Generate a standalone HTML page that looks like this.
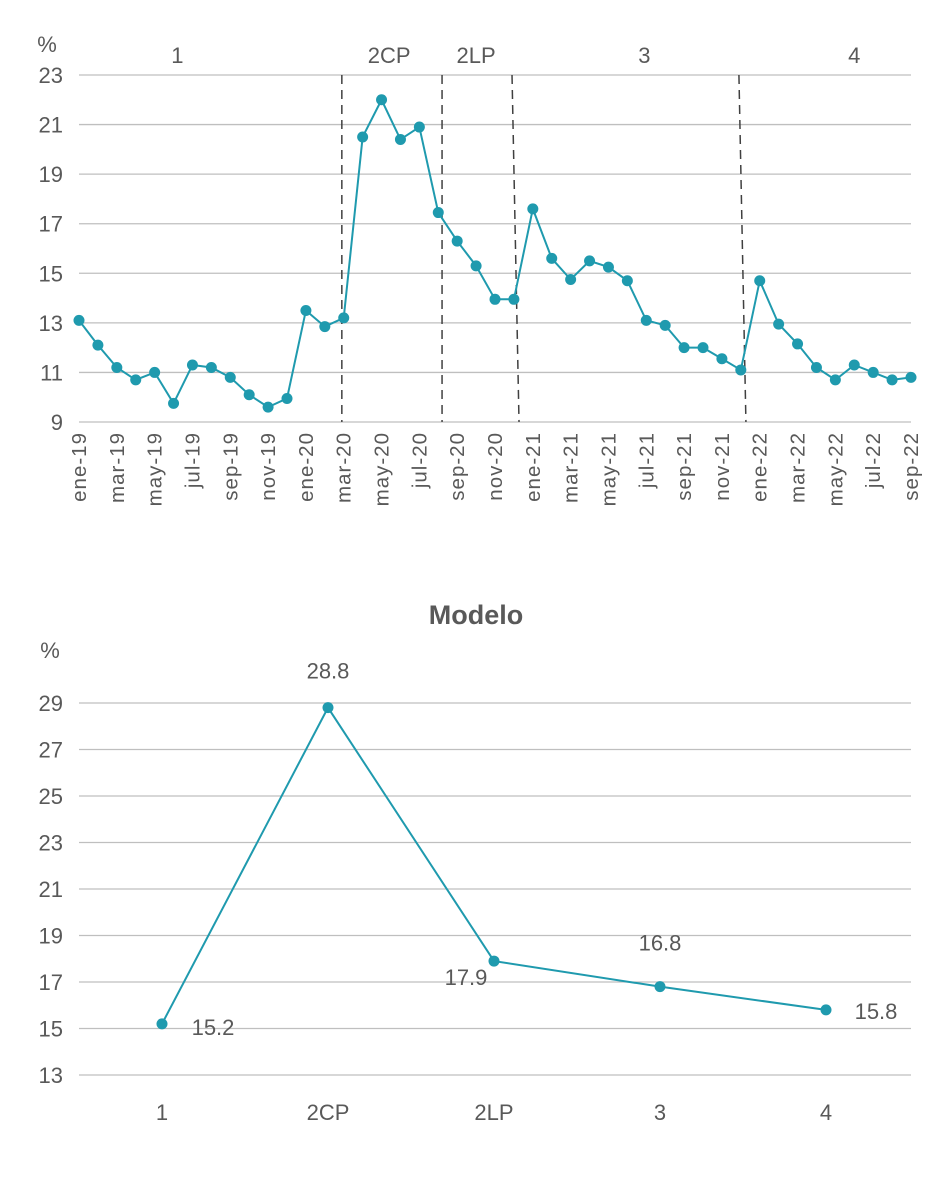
<!DOCTYPE html>
<html><head><meta charset="utf-8"><style>
body{margin:0;background:#fff;}
svg{display:block;font-family:"Liberation Sans",sans-serif;}
</style></head><body>
<svg id="svg" width="946" height="1188"></svg>
<script>
const months=["ene","feb","mar","abr","may","jun","jul","ago","sep","oct","nov","dic"];
const startYear=19;
const topValues=[13.1,12.1,11.2,10.7,11.0,9.75,11.3,11.2,10.8,10.1,9.6,9.95,13.5,12.85,13.2,20.5,22.0,20.4,20.9,17.45,16.3,15.3,13.95,13.95,17.6,15.6,14.75,15.5,15.25,14.7,13.1,12.9,12.0,12.0,11.55,11.1,14.7,12.95,12.15,11.2,10.7,11.3,11.0,10.7,10.8];
const topTicks=[9,11,13,15,17,19,21,23];
const phaseLabels=["1","2CP","2LP","3","4"];
const phaseLabelIdx=[5.2,16.4,21.0,29.9,41.0];
const phaseBreaks=[13.9,19.2,22.9,34.9];
const modelCats=["1","2CP","2LP","3","4"];
const modelValues=[15.2,28.8,17.9,16.8,15.8];
const modelTicks=[13,15,17,19,21,23,25,27,29];

const NS="http://www.w3.org/2000/svg";
const svg=document.getElementById('svg');
const C="#1f9aae", G="#595959";
function mk(t,a,txt){const e=document.createElementNS(NS,t);for(const k in a)e.setAttribute(k,a[k]);if(txt!==undefined)e.textContent=txt;svg.appendChild(e);return e;}

// top chart
const tx=i=>79+i*(911-79)/44;
const ty=v=>422-(v-9)*(422-75)/14;
topTicks.forEach(t=>{
  const l=mk('line',{x1:79,x2:911,y1:ty(t),y2:ty(t),stroke:"#bfbfbf","stroke-width":1.3});
  
  const tt=mk('text',{x:63,y:ty(t)+8,"text-anchor":"end","font-size":22,fill:G},t);
  
});
let e=mk('text',{x:47,y:52,"text-anchor":"middle","font-size":22,fill:G},"%");

phaseBreaks.forEach(b=>{
  const l=mk('line',{x1:tx(b),x2:tx(b)+(b>20?7:0),y1:75,y2:422,stroke:"#404040","stroke-width":1.5,"stroke-dasharray":"9,6"});
  
});
phaseLabels.forEach((p,i)=>{
  const t=mk('text',{x:tx(phaseLabelIdx[i]),y:63,"text-anchor":"middle","font-size":22,fill:G},p);
  
});
e=mk('polyline',{points:topValues.map((v,i)=>tx(i)+","+ty(v)).join(" "),fill:"none",stroke:C,"stroke-width":2});

topValues.forEach((v,i)=>{
  const c=mk('circle',{cx:tx(i),cy:ty(v),r:5.5,fill:C});
  
  if(i%2===0){
    const lab=months[i%12]+"-"+(startYear+Math.floor(i/12));
    const x=tx(i)+7,y=432;
    const t=mk('text',{x:x,y:y,transform:`rotate(-90 ${x} ${y})`,"text-anchor":"end","font-size":20.5,"letter-spacing":"1",fill:G},lab);
    
  }
});

// bottom chart
const bx=i=>162+i*(826-162)/4;
const by=v=>1075-(v-13)*(1075-703)/16;
e=mk('text',{x:476,y:624,"text-anchor":"middle","font-size":27,"font-weight":"bold",fill:G},"Modelo");

e=mk('text',{x:50,y:658,"text-anchor":"middle","font-size":22,fill:G},"%");

modelTicks.forEach(t=>{
  const l=mk('line',{x1:79,x2:911,y1:by(t),y2:by(t),stroke:"#bfbfbf","stroke-width":1.3});
  
  const tt=mk('text',{x:63,y:by(t)+8,"text-anchor":"end","font-size":22,fill:G},t);
  
});
e=mk('polyline',{points:modelValues.map((v,i)=>bx(i)+","+by(v)).join(" "),fill:"none",stroke:C,"stroke-width":2});

const off=[[51,3],[0,-37],[-28,16],[0,-44],[50,1]];
modelValues.forEach((v,i)=>{
  const c=mk('circle',{cx:bx(i),cy:by(v),r:5.5,fill:C});
  
  const d=mk('text',{x:bx(i)+off[i][0],y:by(v)+off[i][1]+8,"text-anchor":"middle","font-size":22,fill:G},v.toFixed(1));
  
  const t=mk('text',{x:bx(i),y:1120,"text-anchor":"middle","font-size":22,fill:G},modelCats[i]);
  
});
</script>
</body></html>
